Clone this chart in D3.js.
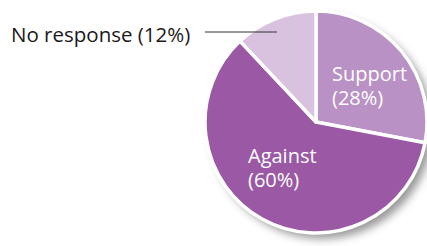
<!DOCTYPE html>
<html lang="en">
<head>
<meta charset="UTF-8">
<title>Pie</title>
<script src="https://d3js.org/d3.v7.min.js"></script>
<style>
    body { margin: 0; background: #fff; }
    svg { display: block; font-family: "Open Sans", sans-serif; }
</style>
</head>
<body>
<svg id="chart" width="427" height="246"></svg>
<script>
    // data
    const categories = ['Support', 'Against', 'No response'];
    const values = [28, 60, 12];
    const colors = ['#b991c5', '#9a58a5', '#d8c2e0'];

    const svg = d3.select('#chart');
    const cx = 316, cy = 122, r = 111;

    const defs = svg.append('defs');
    const f = defs.append('filter').attr('id', 'shadow')
        .attr('x', '-20%').attr('y', '-20%').attr('width', '150%').attr('height', '150%');
    f.append('feDropShadow').attr('dx', 6).attr('dy', 6).attr('stdDeviation', 4)
        .attr('flood-color', '#000').attr('flood-opacity', 0.4);

    const pie = d3.pie().sort(null).value(d => d.v);
    const arcs = pie(categories.map((c, i) => ({ c, v: values[i], col: colors[i] })));
    const arc = d3.arc().innerRadius(0).outerRadius(r);

    const g = svg.append('g').attr('transform', `translate(${cx},${cy})`);

    // shadow disc
    g.append('circle').attr('r', r).attr('fill', '#fff').attr('filter', 'url(#shadow)');

    g.selectAll('path.slice')
        .data(arcs)
        .enter().append('path')
        .attr('class', 'slice')
        .attr('d', arc)
        .attr('fill', d => d.data.col)
        .attr('stroke', '#fff')
        .attr('stroke-width', 3.5)
        .attr('stroke-linejoin', 'round');

    // inside labels
    const inside = [
        { i: 0, x: 332, y: 81 },
        { i: 1, x: 248, y: 163 }
    ];
    inside.forEach(l => {
        const t = svg.append('text')
            .attr('x', l.x).attr('y', l.y)
            .attr('fill', '#fff')
            .attr('font-size', 20);
        t.append('tspan').attr('x', l.x).text(categories[l.i]);
        t.append('tspan').attr('x', l.x).attr('dy', 24).text(`(${values[l.i]}%)`);
    });

    // outside label with leader line
    svg.append('line')
        .attr('x1', 205).attr('x2', 277).attr('y1', 32).attr('y2', 32)
        .attr('stroke', '#333').attr('stroke-width', 1);
    svg.append('text')
        .attr('x', 11).attr('y', 42)
        .attr('fill', '#1a1a1a')
        .attr('font-size', 20.5)
        .text(`${categories[2]} (${values[2]}%)`);
</script>
</body>
</html>
